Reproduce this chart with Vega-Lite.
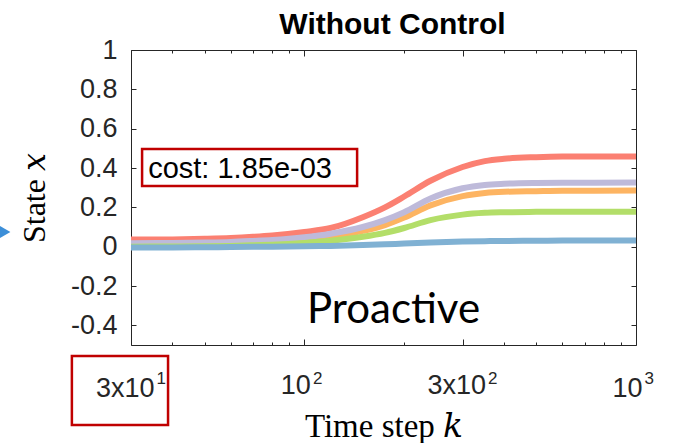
{
  "$schema": "https://vega.github.io/schema/vega-lite/v6.json",
  "width": 505,
  "height": 295,
  "autosize": {"type": "none"},
  "padding": {"left": 131, "top": 50, "right": 37, "bottom": 98},
  "background": "white",
  "config": {
    "view": {"stroke": null},
    "axis": {
      "grid": false,
      "domainColor": "#262626",
      "tickColor": "#262626",
      "labelColor": "#262626",
      "titleColor": "#000000",
      "labelFont": "Liberation Sans",
      "labelFontSize": 27,
      "labelFontWeight": "normal",
      "domainWidth": 1,
      "tickWidth": 1,
      "labelFlush": false,
      "labelOverlap": false,
      "labelBound": false
    }
  },
  "title": {
    "text": "Without Control",
    "font": "Liberation Sans",
    "fontSize": 30,
    "fontWeight": "bold",
    "color": "#000000",
    "anchor": "middle",
    "dx": 9,
    "offset": -28,
    "baseline": "alphabetic"
  },
  "datasets": {
    "lines": [
      {"s": "s1", "k": 30, "v": 0.036}, {"s": "s1", "k": 40, "v": 0.037}, {"s": "s1", "k": 50, "v": 0.04}, {"s": "s1", "k": 60, "v": 0.044}, {"s": "s1", "k": 70, "v": 0.05}, {"s": "s1", "k": 80, "v": 0.057}, {"s": "s1", "k": 100, "v": 0.075}, {"s": "s1", "k": 120, "v": 0.095}, {"s": "s1", "k": 150, "v": 0.15}, {"s": "s1", "k": 175, "v": 0.2}, {"s": "s1", "k": 200, "v": 0.255}, {"s": "s1", "k": 240, "v": 0.335}, {"s": "s1", "k": 300, "v": 0.405}, {"s": "s1", "k": 350, "v": 0.435}, {"s": "s1", "k": 400, "v": 0.447}, {"s": "s1", "k": 500, "v": 0.455}, {"s": "s1", "k": 600, "v": 0.458}, {"s": "s1", "k": 1000, "v": 0.459},
      {"s": "s2", "k": 30, "v": 0.004}, {"s": "s2", "k": 40, "v": 0.005}, {"s": "s2", "k": 50, "v": 0.007}, {"s": "s2", "k": 60, "v": 0.01}, {"s": "s2", "k": 70, "v": 0.014}, {"s": "s2", "k": 80, "v": 0.019}, {"s": "s2", "k": 100, "v": 0.032}, {"s": "s2", "k": 120, "v": 0.049}, {"s": "s2", "k": 150, "v": 0.08}, {"s": "s2", "k": 175, "v": 0.11}, {"s": "s2", "k": 200, "v": 0.148}, {"s": "s2", "k": 240, "v": 0.21}, {"s": "s2", "k": 300, "v": 0.257}, {"s": "s2", "k": 350, "v": 0.273}, {"s": "s2", "k": 400, "v": 0.279}, {"s": "s2", "k": 500, "v": 0.282}, {"s": "s2", "k": 600, "v": 0.284}, {"s": "s2", "k": 1000, "v": 0.285},
      {"s": "s3", "k": 30, "v": 0.018}, {"s": "s3", "k": 40, "v": 0.019}, {"s": "s3", "k": 50, "v": 0.021}, {"s": "s3", "k": 60, "v": 0.024}, {"s": "s3", "k": 70, "v": 0.029}, {"s": "s3", "k": 80, "v": 0.034}, {"s": "s3", "k": 100, "v": 0.048}, {"s": "s3", "k": 120, "v": 0.066}, {"s": "s3", "k": 150, "v": 0.1}, {"s": "s3", "k": 175, "v": 0.135}, {"s": "s3", "k": 200, "v": 0.175}, {"s": "s3", "k": 240, "v": 0.245}, {"s": "s3", "k": 300, "v": 0.297}, {"s": "s3", "k": 350, "v": 0.314}, {"s": "s3", "k": 400, "v": 0.32}, {"s": "s3", "k": 500, "v": 0.324}, {"s": "s3", "k": 600, "v": 0.325}, {"s": "s3", "k": 1000, "v": 0.326},
      {"s": "s4", "k": 30, "v": 0.0}, {"s": "s4", "k": 40, "v": 0.001}, {"s": "s4", "k": 50, "v": 0.002}, {"s": "s4", "k": 60, "v": 0.004}, {"s": "s4", "k": 70, "v": 0.007}, {"s": "s4", "k": 80, "v": 0.01}, {"s": "s4", "k": 100, "v": 0.019}, {"s": "s4", "k": 120, "v": 0.03}, {"s": "s4", "k": 150, "v": 0.05}, {"s": "s4", "k": 175, "v": 0.07}, {"s": "s4", "k": 200, "v": 0.095}, {"s": "s4", "k": 240, "v": 0.135}, {"s": "s4", "k": 300, "v": 0.163}, {"s": "s4", "k": 350, "v": 0.172}, {"s": "s4", "k": 400, "v": 0.175}, {"s": "s4", "k": 500, "v": 0.177}, {"s": "s4", "k": 600, "v": 0.178}, {"s": "s4", "k": 1000, "v": 0.178},
      {"s": "s5", "k": 30, "v": -0.004}, {"s": "s5", "k": 40, "v": -0.004}, {"s": "s5", "k": 50, "v": -0.003}, {"s": "s5", "k": 60, "v": -0.002}, {"s": "s5", "k": 70, "v": -0.001}, {"s": "s5", "k": 80, "v": 0.0}, {"s": "s5", "k": 100, "v": 0.002}, {"s": "s5", "k": 120, "v": 0.004}, {"s": "s5", "k": 150, "v": 0.008}, {"s": "s5", "k": 175, "v": 0.012}, {"s": "s5", "k": 200, "v": 0.016}, {"s": "s5", "k": 240, "v": 0.021}, {"s": "s5", "k": 300, "v": 0.026}, {"s": "s5", "k": 350, "v": 0.028}, {"s": "s5", "k": 400, "v": 0.029}, {"s": "s5", "k": 500, "v": 0.03}, {"s": "s5", "k": 600, "v": 0.031}, {"s": "s5", "k": 1000, "v": 0.031}
    ],
    "costbox": [{"x1": 32.4, "x2": 144.2, "y1": 0.309, "y2": 0.497}],
    "cost": [{"k": 33.8, "v": 0.349, "label": "cost: 1.85e-03"}],
    "pro": [{"k": 185.7, "v": -0.388, "label": "Proactive"}],
    "tickbox": [{"x1": 19.9, "x2": 38.8, "y1": -0.9065, "y2": -0.5557}],
    "marker": [{"k": 12.5, "v": 0.075}]
  },
  "layer": [
    {
      "data": {"name": "lines"},
      "mark": {"type": "line", "strokeWidth": 6, "interpolate": "monotone", "clip": true},
      "encoding": {
        "x": {
          "field": "k", "type": "quantitative",
          "scale": {"type": "log", "domain": [30, 1000], "nice": false},
          "axis": {
            "orient": "bottom",
            "values": [30, 40, 50, 60, 70, 80, 90, 100, 200, 300, 400, 500, 600, 700, 800, 900, 1000],
            "labelExpr": "datum.value == 30 || datum.value == 300 ? '3x10' : datum.value == 100 || datum.value == 1000 ? '10' : ''",
            "labelAlign": "right",
            "labelOffset": {"condition": {"test": "datum.value == 30 || datum.value == 300", "value": 23}, "value": 6},
            "tickSize": {"condition": {"test": "datum.value == 100 || datum.value == 300", "value": -6}, "value": -3},
            "labelPadding": 33,
            "title": "Time step 𝑘",
            "titleFont": "Liberation Serif, DejaVu Serif",
            "titleFontSize": 33,
            "titleFontWeight": "normal",
            "titlePadding": 9
          }
        },
        "y": {
          "field": "v", "type": "quantitative",
          "scale": {"domain": [-0.5, 1], "nice": false, "zero": false},
          "axis": {
            "orient": "left",
            "values": [-0.4, -0.2, 0, 0.2, 0.4, 0.6, 0.8, 1],
            "labelExpr": "'' + datum.value",
            "tickSize": -5,
            "labelPadding": 19,
            "title": "State 𝑥",
            "titleFont": "Liberation Serif, DejaVu Serif",
            "titleFontSize": 32,
            "titleFontWeight": "normal",
            "titlePadding": 19
          }
        },
        "color": {
          "field": "s", "type": "nominal",
          "scale": {"domain": ["s1", "s2", "s3", "s4", "s5"], "range": ["#fb8072", "#fdb462", "#bebada", "#b3de69", "#80b1d3"]},
          "legend": null
        }
      }
    },
    {
      "data": {"name": "costbox"},
      "mark": {"type": "rect", "fill": "white", "stroke": "#c00000", "strokeWidth": 2.5},
      "encoding": {
        "x": {
          "field": "x1", "type": "quantitative",
          "axis": {
            "orient": "top",
            "values": [30, 40, 50, 60, 70, 80, 90, 100, 200, 300, 400, 500, 600, 700, 800, 900, 1000],
            "labels": false, "title": null,
            "tickSize": {"condition": {"test": "datum.value == 100 || datum.value == 300", "value": -6}, "value": -3}
          }
        },
        "x2": {"field": "x2"},
        "y": {
          "field": "y1", "type": "quantitative",
          "axis": {
            "orient": "right",
            "values": [-0.4, -0.2, 0, 0.2, 0.4, 0.6, 0.8, 1],
            "labels": false, "title": null, "tickSize": -5
          }
        },
        "y2": {"field": "y2"}
      }
    },
    {
      "data": {"name": "cost"},
      "mark": {"type": "text", "align": "left", "baseline": "alphabetic", "font": "Liberation Sans", "fontSize": 29, "color": "#000000"},
      "encoding": {
        "x": {
          "field": "k", "type": "quantitative",
          "axis": {
            "orient": "bottom",
            "values": [30, 100, 300, 1000],
            "labelExpr": "datum.value == 30 ? '1' : datum.value == 1000 ? '3' : '2'",
            "labelAlign": "left",
            "labelFontSize": 17,
            "labelOffset": {"condition": {"test": "datum.value == 30 || datum.value == 300", "value": 25}, "value": 8},
            "ticks": false,
            "domain": false,
            "labelPadding": 25,
            "title": null
          }
        },
        "y": {"field": "v", "type": "quantitative", "axis": null},
        "text": {"field": "label"}
      }
    },
    {
      "data": {"name": "pro"},
      "mark": {"type": "text", "align": "center", "baseline": "alphabetic", "font": "Lato", "fontSize": 42, "color": "#000000"},
      "encoding": {
        "x": {"field": "k", "type": "quantitative", "axis": null},
        "y": {"field": "v", "type": "quantitative", "axis": null},
        "text": {"field": "label"}
      }
    },
    {
      "data": {"name": "tickbox"},
      "mark": {"type": "rect", "fill": "white", "fillOpacity": 0, "stroke": "#c00000", "strokeWidth": 2.5},
      "encoding": {
        "x": {"field": "x1", "type": "quantitative", "axis": null},
        "x2": {"field": "x2"},
        "y": {"field": "y1", "type": "quantitative", "axis": null},
        "y2": {"field": "y2"}
      }
    },
    {
      "data": {"name": "marker"},
      "mark": {"type": "point", "shape": "triangle-right", "filled": true, "size": 160, "color": "#3d8fd8", "opacity": 1},
      "encoding": {
        "x": {"field": "k", "type": "quantitative", "axis": null},
        "y": {"field": "v", "type": "quantitative", "axis": null}
      }
    }
  ],
  "resolve": {"axis": {"x": "independent", "y": "independent"}}
}
